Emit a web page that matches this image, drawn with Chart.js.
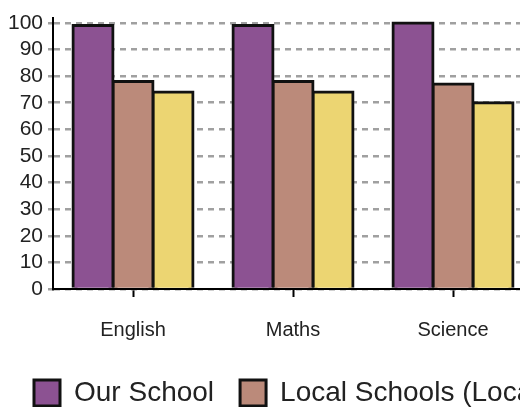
<!DOCTYPE html>
<html>
<head>
<meta charset="utf-8">
<script src="https://cdn.jsdelivr.net/npm/chart.js@4"></script>
<style>
  html, body { margin: 0; padding: 0; background: #fff; overflow: hidden; }
  #wrap { position: relative; width: 1000px; height: 417px; }
</style>
</head>
<body>
<div id="wrap"><canvas id="resultsChart"></canvas></div>
<script>
const subjects = ["English", "Maths", "Science"];
const ourSchool = [99, 99, 100];
const localSchools = [78, 78, 77];
const nationalAvg = [74, 74, 70];
const seriesNames = ["Our School", "Local Schools (Local Authority)", "National Average"];
const yTickValues = [0, 10, 20, 30, 40, 50, 60, 70, 80, 90, 100];

Chart.defaults.font.family = "'Liberation Sans', Arial, sans-serif";
Chart.defaults.color = "#222";

const barStyle = { borderColor: "#111", borderWidth: 3, inflateAmount: 1.5 };

// Results Chart
const ctx = document.getElementById("resultsChart").getContext("2d");
new Chart(ctx, {
  type: "bar",
  data: {
    labels: subjects,
    datasets: [
      { label: seriesNames[0], data: ourSchool, backgroundColor: "#8C5292", ...barStyle },
      { label: seriesNames[1], data: localSchools, backgroundColor: "#BB8A7A", ...barStyle },
      { label: seriesNames[2], data: nationalAvg, backgroundColor: "#ECD572", ...barStyle },
    ],
  },
  options: {
    responsive: true,
    maintainAspectRatio: false,
    animation: false,
    layout: { padding: { top: 10, left: 8 } },
    datasets: { bar: { categoryPercentage: 0.75, barPercentage: 1 } },
    plugins: {
      tooltip: { enabled: false },
      legend: {
        position: "bottom",
        align: "start",
        labels: {
          boxWidth: 26,
          boxHeight: 26,
          padding: 26,
          font: { size: 28 },
          color: "#222",
        },
      },
    },
    scales: {
      x: {
        border: { color: "#000", width: 2 },
        grid: {
          offset: false,
          drawOnChartArea: false,
          tickColor: "#000",
          tickWidth: 2,
          tickLength: 8,
        },
        ticks: { font: { size: 20 }, padding: 21 },
        // pull the legend a little closer to the labels
        afterFit: (scale) => {
          scale.height -= 10;
        },
      },
      y: {
        min: 0,
        max: 102,
        afterBuildTicks: (scale) => {
          scale.ticks = yTickValues.map((v) => ({ value: v }));
        },
        afterFit: (scale) => {
          scale.width = 45;
        },
        border: { color: "#000", width: 2, dash: [6, 5] },
        grid: {
          color: "#a0a0a0",
          lineWidth: 2.5,
          tickColor: "#a0a0a0",
          tickLength: 5,
        },
        ticks: { font: { size: 21 }, padding: 5, autoSkip: false },
      },
      // empty right-hand axis that keeps the plot narrow while the legend stays on one row
      spacer: {
        type: "linear",
        position: "right",
        grid: { display: false },
        border: { display: false },
        ticks: { display: false },
        afterFit: (scale) => {
          scale.width = 467;
        },
      },
    },
  },
});
</script>
</body>
</html>
